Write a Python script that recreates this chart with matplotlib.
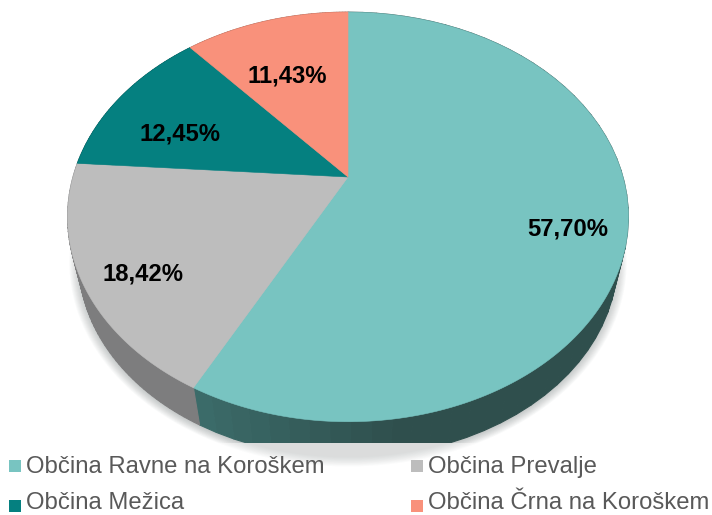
import numpy as np
import matplotlib
matplotlib.use("Agg")
import matplotlib.pyplot as plt
from matplotlib.patches import Rectangle

plt.rcParams['font.family'] = ['Liberation Sans', 'DejaVu Sans']

labels = ['Občina Ravne na Koroškem', 'Občina Prevalje', 'Občina Mežica', 'Občina Črna na Koroškem']
values = [57.70, 18.42, 12.45, 11.43]
value_text = ['57,70%', '18,42%', '12,45%', '11,43%']
colors = ['#78c4c1', '#bdbdbd', '#058080', '#f9917b']
side_left = ['#3b6b69', '#7d7d7e', '#035050', '#a06050']
side_right = ['#2f4f4d', '#6f6f70', '#035050', '#a06050']

# where things sit, in pixels
text_pos = [(568, 229), (143, 274), (180, 134), (287, 76)]
legend_pos = [(9, 473), (411, 473), (9, 509), (411, 509)]
square_y = [460, 460, 500, 500]

cx, cy = 348, 177
a, b, k = 275, 197, 0.195
mid_y = 217
legend_top = 443


# circle seen at an angle: the centre ends up above the middle of the ellipse
def project(theta, r=1.0):
    s, c = np.sin(theta), np.cos(theta)
    d = 1 + k * c
    return cx + r * a * s / d, cy - r * b * c / d


# lower rim of the pie is a bit smaller than the top one
def lower_rim(x, y, scale=0.96, drop=44):
    return cx + (x - cx) * scale, mid_y + drop + (y - mid_y) * scale


fig = plt.figure(figsize=(7.12, 5.15), dpi=100)
ax = fig.add_axes([0, 0, 1, 1])
ax.set_xlim(0, 712)
ax.set_ylim(515, 0)
ax.axis('off')

edges = np.radians(np.concatenate([[0], np.cumsum(values)]) * 3.6)

# soft shadow round the side
ring = np.linspace(0, 2 * np.pi, 361)
for grow in np.linspace(1.035, 0.99, 14):
    x, y = lower_rim(*project(ring))
    ax.fill(cx + (x - cx) * grow, mid_y + 46 + (y - mid_y - 44) * grow,
            color='#5a6262', alpha=0.03, lw=0, zorder=1)

# side of the pie, cut off by the legend area
clip = Rectangle((0, 0), 712, legend_top, transform=ax.transData)
for i in range(len(values)):
    th = np.linspace(edges[i], edges[i + 1], 60)
    left = np.array(matplotlib.colors.to_rgb(side_left[i]))
    right = np.array(matplotlib.colors.to_rgb(side_right[i]))
    for j in range(len(th) - 1):
        x0, y0 = project(th[j])
        x1, y1 = project(th[j + 1])
        bx0, by0 = lower_rim(x0, y0)
        bx1, by1 = lower_rim(x1, y1)
        t = np.clip((cx + 60 - x0) / 200, 0, 1)
        poly = ax.fill([x0, x1, bx1, bx0], [y0, y1, by1, by0],
                       color=right + (left - right) * t, lw=0.8, zorder=2)
        poly[0].set_clip_path(clip)

# top face
for i in range(len(values)):
    th = np.linspace(edges[i], edges[i + 1], 200)
    x, y = project(th)
    ax.fill(np.r_[cx, x], np.r_[cy, y], color=colors[i], lw=0.4, zorder=3)
    ax.text(text_pos[i][0], text_pos[i][1], value_text[i], fontsize=17.2, fontweight='bold',
            color='black', ha='center', va='center', zorder=5)

# legend area washes out the shadow below the pie
ax.add_patch(Rectangle((0, legend_top), 712, 515 - legend_top, color='white', alpha=0.45, lw=0, zorder=4))
for i in range(len(labels)):
    lx, ly = legend_pos[i]
    ax.add_patch(Rectangle((lx, square_y[i]), 12, 12, color=colors[i], lw=0, zorder=5))
    ax.text(lx + 17, ly, labels[i], fontsize=17.2, color='#595959', ha='left', va='baseline', zorder=5)

fig.savefig('out.png', dpi=100)
